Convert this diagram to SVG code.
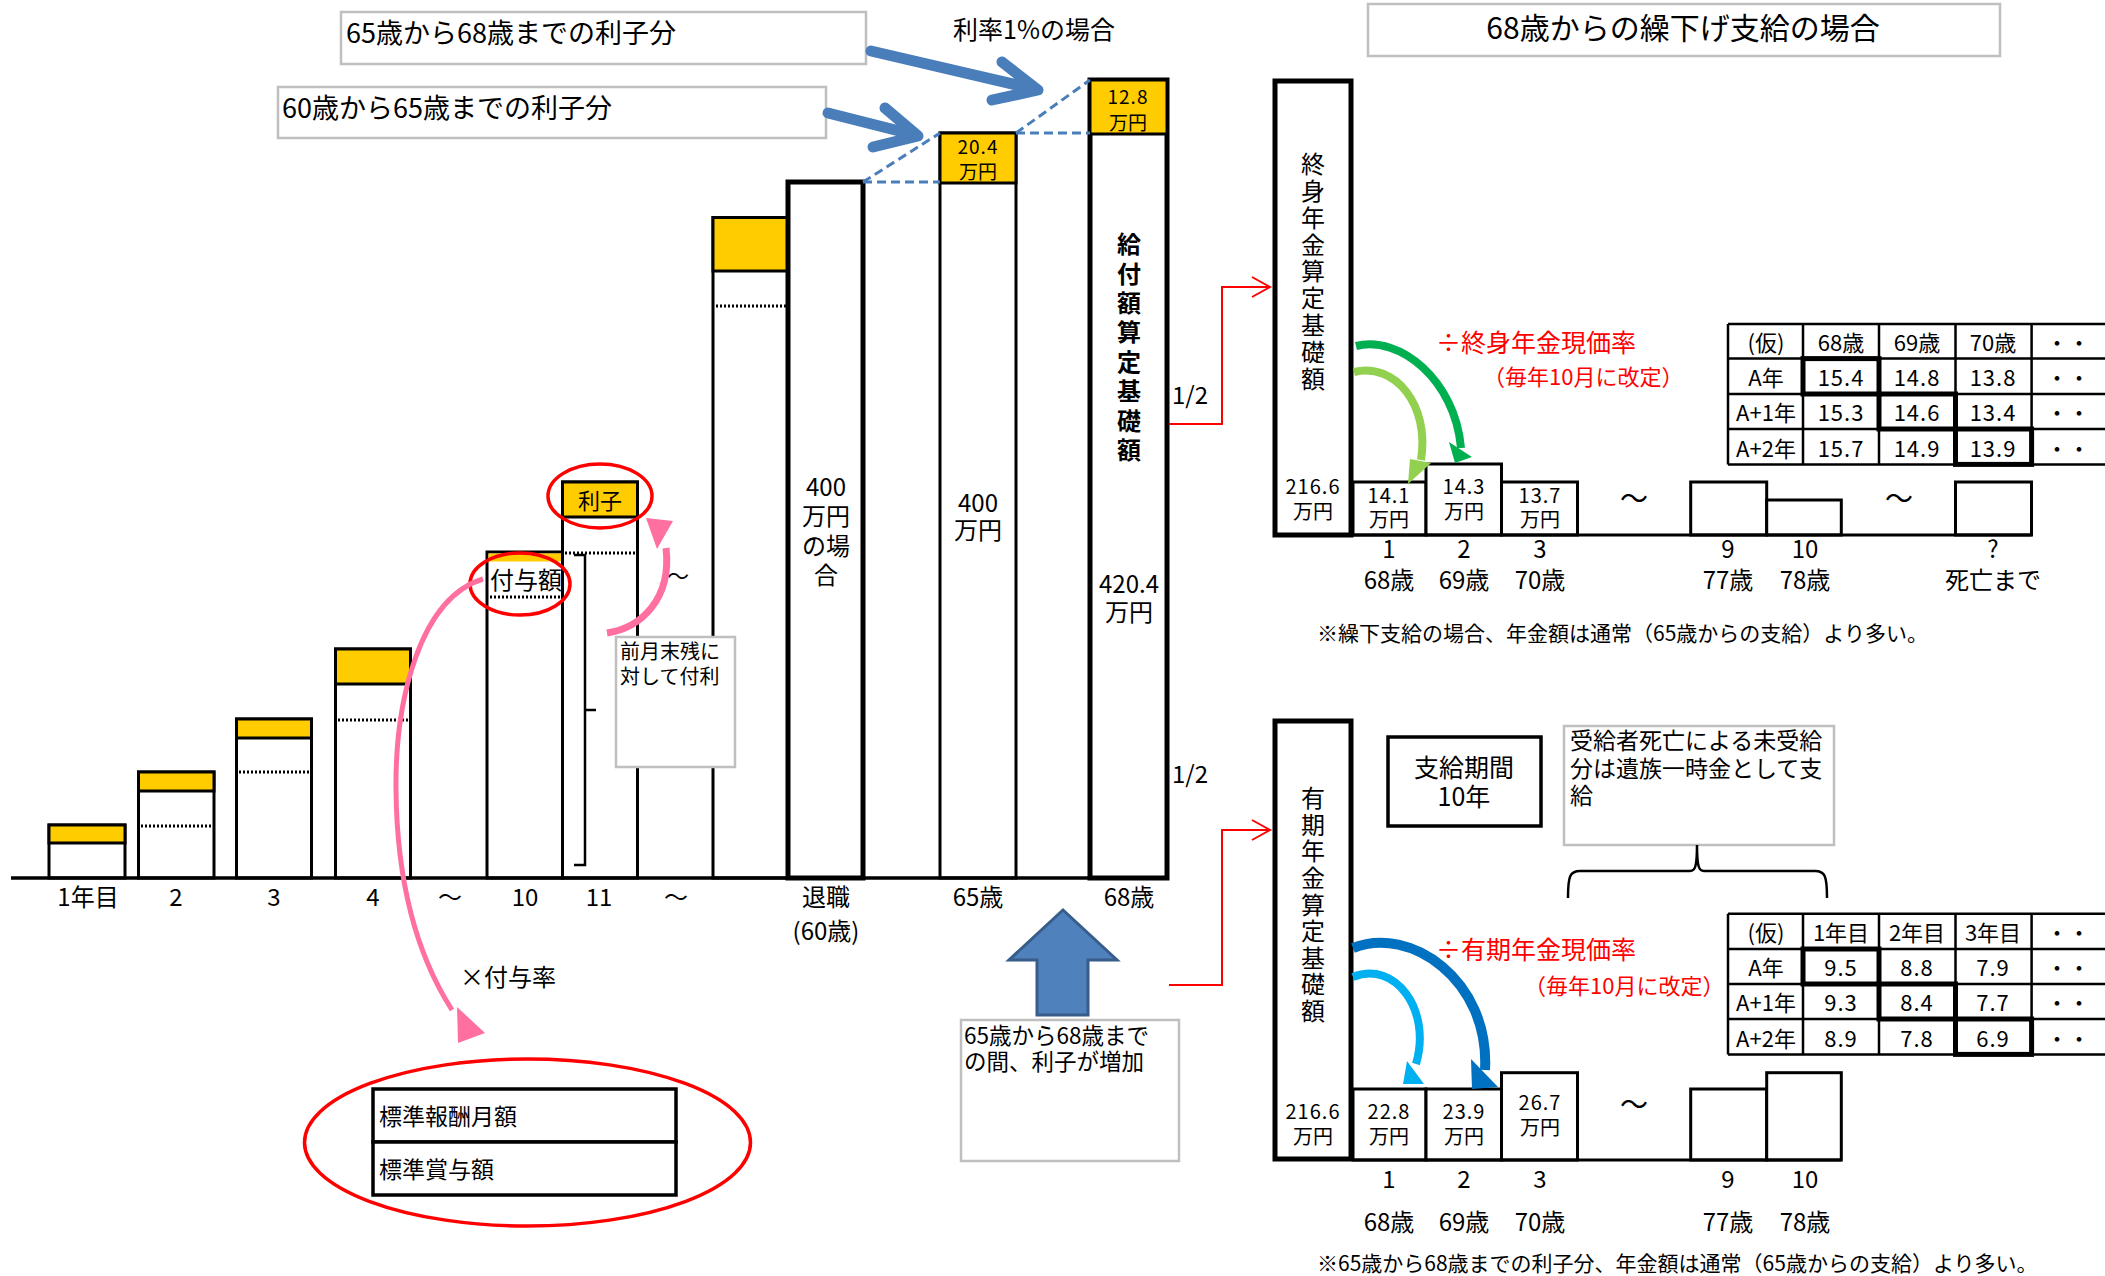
<svg xmlns="http://www.w3.org/2000/svg" width="2105" height="1276" viewBox="0 0 2105 1276">
<style>
text { font-family: "Noto Sans CJK JP", "Noto Sans", sans-serif; fill: #000; }
.c { text-anchor: middle; dominant-baseline: central; }
.l { dominant-baseline: central; }
.v { writing-mode: vertical-rl; font-size: 24px; }
.bar { fill: #fff; stroke: #000; stroke-width: 3; }
.thick { fill: #fff; stroke: #000; stroke-width: 5; }
.yel { fill: #ffcc00; stroke: #000; stroke-width: 3; }
.dot { stroke: #000; stroke-width: 3; stroke-dasharray: 2 2; fill: none; }
.gbox { fill: #fff; stroke: #bfbfbf; stroke-width: 2.5; }
.bbox { fill: #fff; stroke: #000; stroke-width: 3.5; }
.redc { fill: none; stroke: #ff0000; stroke-width: 3.5; }
.redl { fill: none; stroke: #ff0000; stroke-width: 2; }
.dash { fill: none; stroke: #4a7ebb; stroke-width: 3; stroke-dasharray: 9 5; }
.barrow { fill: none; stroke: #4a7ebb; stroke-width: 11; stroke-linecap: round; stroke-linejoin: round; }
.rt { fill: #ff0000; }
.grid { stroke: #000; stroke-width: 2.5; fill: none; }
.hl { stroke: #000; stroke-width: 5; fill: none; }
.s20 { font-size: 20px; }
.s22 { font-size: 22px; }
.s24 { font-size: 24px; }
.num { letter-spacing: 1px; }
</style>

<!-- Left: yearly bars -->
<g id="bar-1"><rect class="bar" x="49" y="825" width="76" height="53"/><rect class="yel" x="49" y="825" width="76" height="18"/></g>
<g id="bar-2"><rect class="bar" x="138.5" y="772" width="75.5" height="106"/><rect class="yel" x="138.5" y="772" width="75.5" height="19"/><line class="dot" x1="141" y1="826" x2="212" y2="826"/></g>
<g id="bar-3"><rect class="bar" x="236.5" y="719" width="75" height="159"/><rect class="yel" x="236.5" y="719" width="75" height="19"/><line class="dot" x1="239" y1="772" x2="310" y2="772"/></g>
<g id="bar-4"><rect class="bar" x="335.5" y="649" width="75" height="229"/><rect class="yel" x="335.5" y="649" width="75" height="35"/><line class="dot" x1="338" y1="720" x2="409" y2="720"/></g>
<g id="bar-10"><rect class="bar" x="487" y="552" width="75.5" height="326"/><rect fill="#ffcc00" x="488.5" y="553.5" width="72.5" height="8"/><line class="dot" x1="490" y1="597" x2="561" y2="597"/><text class="c s24" x="526" y="578">付与額</text></g>
<g id="bar-11"><rect class="bar" x="562.5" y="482" width="75" height="396"/><rect class="yel" x="562.5" y="482" width="75" height="35"/><line class="dot" x1="565" y1="553" x2="636" y2="553"/><text class="c s22" x="600" y="499">利子</text></g>
<g id="bracket"><path d="M574,555 H585 V865 H574 M585,710 H596" fill="none" stroke="#000" stroke-width="2.5"/></g>
<g id="bar-59"><rect class="bar" x="713" y="217.5" width="75" height="660.5"/><rect class="yel" x="713" y="217.5" width="75" height="53.5"/><line class="dot" x1="716" y1="306" x2="786" y2="306"/></g>
<g id="bar-retire"><rect class="thick" x="788" y="182" width="75" height="696"/>
<text class="c s24"><tspan x="826" y="485">400</tspan><tspan x="826" y="514">万円</tspan><tspan x="826" y="544">の場</tspan><tspan x="826" y="573">合</tspan></text></g>
<g id="bar-65"><rect class="bar" x="940" y="133" width="76" height="745" stroke-width="3.5"/><rect class="yel" x="940" y="133" width="76" height="50" stroke-width="3.5"/>
<text class="c" font-size="19"><tspan x="978" y="145" class="num">20.4</tspan><tspan x="978" y="170">万円</tspan></text>
<text class="c s24"><tspan x="978" y="501">400</tspan><tspan x="978" y="528">万円</tspan></text></g>
<g id="bar-68"><rect class="thick" x="1090" y="80" width="77" height="798"/><rect class="yel" x="1090" y="80" width="77" height="54" stroke-width="5"/>
<text class="c" font-size="19"><tspan x="1128" y="95" class="num">12.8</tspan><tspan x="1128" y="121">万円</tspan></text>
<text class="v" x="1129" y="232" font-weight="bold" letter-spacing="5.4">給付額算定基礎額</text>
<text class="c s24"><tspan x="1129" y="582">420.4</tspan><tspan x="1129" y="610">万円</tspan></text></g>
<line x1="11" y1="878" x2="1167" y2="878" stroke="#000" stroke-width="3.5"/>

<!-- axis labels -->
<g id="axis-left" class="s24">
<text class="c" x="88" y="895">1年目</text><text class="c" x="176" y="895">2</text><text class="c" x="274" y="895">3</text><text class="c" x="373" y="895">4</text><text class="c" x="450" y="895">～</text><text class="c" x="525" y="895">10</text><text class="c" x="599" y="895">11</text><text class="c" x="676" y="895">～</text>
<text class="c"><tspan x="826" y="895">退職</tspan><tspan x="826" y="929">(60歳)</tspan></text><text class="c" x="978" y="895">65歳</text><text class="c" x="1129" y="895">68歳</text>
</g>
<text class="c s22" x="678" y="574">～</text>

<!-- top notes -->
<g id="note-65-68"><rect class="gbox" x="341" y="12" width="525" height="52"/><text class="l" font-size="27" x="346" y="31">65歳から68歳までの利子分</text></g>
<g id="note-60-65"><rect class="gbox" x="278" y="87" width="548" height="51"/><text class="l" font-size="27" x="282" y="106">60歳から65歳までの利子分</text></g>
<text class="c" font-size="25" x="1034" y="28">利率1%の場合</text>

<g id="note-zenngetsu"><rect class="gbox" x="616" y="637" width="119" height="130"/><text class="l s20"><tspan x="620" y="650">前月末残に</tspan><tspan x="620" y="675">対して付利</tspan></text></g>

<g id="std-box"><rect class="bbox" x="373" y="1089" width="303" height="53"/><rect class="bbox" x="373" y="1142" width="303" height="53"/>
<text class="l" font-size="23" x="379" y="1115">標準報酬月額</text><text class="l" font-size="23" x="379" y="1168">標準賞与額</text></g>
<text class="c s24" x="508" y="975">×付与率</text>

<g id="up-arrow"><polygon points="1063,910 1117,960 1088,960 1088,1015 1037,1015 1037,960 1009,960" fill="#4f81bd" stroke="#385d8a" stroke-width="3"/></g>
<g id="note-increase"><rect class="gbox" x="961" y="1020" width="218" height="141"/><text class="l" font-size="22.5"><tspan x="964" y="1034">65歳から68歳まで</tspan><tspan x="964" y="1060">の間、利子が増加</tspan></text></g>

<text class="c s24" x="1190" y="393">1/2</text>
<text class="c s24" x="1190" y="772">1/2</text>

<!-- Right upper -->
<g id="title"><rect class="gbox" x="1368" y="4" width="632" height="52"/><text class="c" font-size="30" x="1683" y="26">68歳からの繰下げ支給の場合</text></g>

<g id="life-base"><rect class="thick" x="1275" y="81" width="76" height="454"/>
<text class="v" x="1313" y="152" letter-spacing="2.8">終身年金算定基礎額</text>
<text class="c s20"><tspan x="1313" y="485" class="num">216.6</tspan><tspan x="1313" y="510">万円</tspan></text></g>
<g id="life-bars">
<rect class="bar" x="1353" y="482" width="73" height="53"/><text class="c s20"><tspan x="1389" y="494" class="num">14.1</tspan><tspan x="1389" y="518">万円</tspan></text>
<rect class="bar" x="1426" y="464" width="75.5" height="71"/><text class="c s20"><tspan x="1464" y="485" class="num">14.3</tspan><tspan x="1464" y="510">万円</tspan></text>
<rect class="bar" x="1501.5" y="482" width="76" height="53"/><text class="c s20"><tspan x="1540" y="494" class="num">13.7</tspan><tspan x="1540" y="518">万円</tspan></text>
<rect class="bar" x="1690.7" y="482" width="76" height="53"/>
<rect class="bar" x="1766.7" y="500" width="74.6" height="35"/>
<rect class="bar" x="1955.5" y="482" width="76" height="53"/>
<line x1="1353" y1="535" x2="2031.6" y2="535" stroke="#000" stroke-width="3"/>
<text class="c" font-size="28" x="1634" y="497">～</text><text class="c" font-size="28" x="1899" y="497">～</text>
</g>
<g id="life-axis" class="s24">
<text class="c"><tspan x="1389" y="547">1</tspan><tspan x="1389" y="578">68歳</tspan></text>
<text class="c"><tspan x="1464" y="547">2</tspan><tspan x="1464" y="578">69歳</tspan></text>
<text class="c"><tspan x="1540" y="547">3</tspan><tspan x="1540" y="578">70歳</tspan></text>
<text class="c"><tspan x="1728" y="547">9</tspan><tspan x="1728" y="578">77歳</tspan></text>
<text class="c"><tspan x="1805" y="547">10</tspan><tspan x="1805" y="578">78歳</tspan></text>
<text class="c"><tspan x="1993" y="547">?</tspan><tspan x="1993" y="578">死亡まで</tspan></text>
</g>
<text class="l" font-size="21" x="1317" y="632">※繰下支給の場合、年金額は通常（65歳からの支給）より多い。</text>

<text class="l rt" font-size="25" x="1436" y="341">÷終身年金現価率</text>
<text class="l rt" font-size="22" x="1483" y="375">（毎年10月に改定）</text>

<g id="life-table">
<path class="grid" d="M1728,324 H2105 M1728,358.6 H2105 M1728,394 H2105 M1728,429 H2105 M1728,464.4 H2105 M1728,324 V464.4 M1803,324 V464.4 M1879,324 V464.4 M1955.5,324 V464.4 M2031.6,324 V464.4"/>
<rect class="hl" x="1803" y="358.6" width="76" height="35.4"/>
<rect class="hl" x="1879" y="394" width="76.5" height="35"/>
<rect class="hl" x="1955.5" y="429" width="76.1" height="35.4"/>
<g class="s22">
<text class="c" x="1766" y="341">(仮)</text><text class="c" x="1841" y="341">68歳</text><text class="c" x="1917" y="341">69歳</text><text class="c" x="1993" y="341">70歳</text><text class="c" x="2068" y="341">・・</text>
<text class="c" x="1766" y="376">A年</text><text class="c num" x="1841" y="376">15.4</text><text class="c num" x="1917" y="376">14.8</text><text class="c num" x="1993" y="376">13.8</text><text class="c" x="2068" y="376">・・</text>
<text class="c" x="1766" y="411">A+1年</text><text class="c num" x="1841" y="411">15.3</text><text class="c num" x="1917" y="411">14.6</text><text class="c num" x="1993" y="411">13.4</text><text class="c" x="2068" y="411">・・</text>
<text class="c" x="1766" y="447">A+2年</text><text class="c num" x="1841" y="447">15.7</text><text class="c num" x="1917" y="447">14.9</text><text class="c num" x="1993" y="447">13.9</text><text class="c" x="2068" y="447">・・</text>
</g></g>

<!-- Right lower -->
<g id="term-base"><rect class="thick" x="1275" y="721" width="76" height="438"/>
<text class="v" x="1313" y="786" letter-spacing="2.6">有期年金算定基礎額</text>
<text class="c s20"><tspan x="1313" y="1110" class="num">216.6</tspan><tspan x="1313" y="1135">万円</tspan></text></g>
<g id="term-bars">
<rect class="bar" x="1353" y="1089" width="73" height="71"/><text class="c s20"><tspan x="1389" y="1110" class="num">22.8</tspan><tspan x="1389" y="1135">万円</tspan></text>
<rect class="bar" x="1426" y="1089" width="75.5" height="71"/><text class="c s20"><tspan x="1464" y="1110" class="num">23.9</tspan><tspan x="1464" y="1135">万円</tspan></text>
<rect class="bar" x="1501.5" y="1072.7" width="76" height="87.3"/><text class="c s20"><tspan x="1540" y="1101" class="num">26.7</tspan><tspan x="1540" y="1126">万円</tspan></text>
<rect class="bar" x="1690.7" y="1089" width="76" height="71"/>
<rect class="bar" x="1766.7" y="1072.7" width="74.6" height="87.3"/>
<line x1="1353" y1="1160" x2="1841.3" y2="1160" stroke="#000" stroke-width="3"/>
<text class="c" font-size="28" x="1634" y="1103">～</text>
</g>
<g id="term-axis" class="s24">
<text class="c" x="1389" y="1177">1</text><text class="c" x="1464" y="1177">2</text><text class="c" x="1540" y="1177">3</text><text class="c" x="1728" y="1177">9</text><text class="c" x="1805" y="1177">10</text>
<text class="c" x="1389" y="1220">68歳</text><text class="c" x="1464" y="1220">69歳</text><text class="c" x="1540" y="1220">70歳</text><text class="c" x="1728" y="1220">77歳</text><text class="c" x="1805" y="1220">78歳</text>
</g>
<text class="l" font-size="21" x="1317" y="1262">※65歳から68歳までの利子分、年金額は通常（65歳からの支給）より多い。</text>

<g id="period-box"><rect class="bbox" x="1388" y="737" width="153" height="89"/><text class="c" font-size="25"><tspan x="1464" y="766">支給期間</tspan><tspan x="1464" y="795">10年</tspan></text></g>
<g id="death-note"><rect class="gbox" x="1564" y="726" width="270" height="119"/>
<text class="l" font-size="23"><tspan x="1570" y="739">受給者死亡による未受給</tspan><tspan x="1570" y="767">分は遺族一時金として支</tspan><tspan x="1570" y="794">給</tspan></text></g>
<path d="M1568,898 C1568,876 1570,871 1580,871 H1690 C1695,871 1697,867 1697,845 C1697,867 1699,871 1704,871 H1815 C1825,871 1827,876 1827,898" fill="none" stroke="#000" stroke-width="2.5"/>

<text class="l rt" font-size="25" x="1436" y="948">÷有期年金現価率</text>
<text class="l rt" font-size="22" x="1524" y="984">（毎年10月に改定）</text>

<g id="term-table">
<path class="grid" d="M1728,913.7 H2105 M1728,949 H2105 M1728,984 H2105 M1728,1019 H2105 M1728,1054.4 H2105 M1728,913.7 V1054.4 M1803,913.7 V1054.4 M1879,913.7 V1054.4 M1955.5,913.7 V1054.4 M2031.6,913.7 V1054.4"/>
<rect class="hl" x="1803" y="949" width="76" height="35"/>
<rect class="hl" x="1879" y="984" width="76.5" height="35"/>
<rect class="hl" x="1955.5" y="1019" width="76.1" height="35.4"/>
<g class="s22">
<text class="c" x="1766" y="931">(仮)</text><text class="c" x="1841" y="931">1年目</text><text class="c" x="1917" y="931">2年目</text><text class="c" x="1993" y="931">3年目</text><text class="c" x="2068" y="931">・・</text>
<text class="c" x="1766" y="966">A年</text><text class="c num" x="1841" y="966">9.5</text><text class="c num" x="1917" y="966">8.8</text><text class="c num" x="1993" y="966">7.9</text><text class="c" x="2068" y="966">・・</text>
<text class="c" x="1766" y="1001">A+1年</text><text class="c num" x="1841" y="1001">9.3</text><text class="c num" x="1917" y="1001">8.4</text><text class="c num" x="1993" y="1001">7.7</text><text class="c" x="2068" y="1001">・・</text>
<text class="c" x="1766" y="1037">A+2年</text><text class="c num" x="1841" y="1037">8.9</text><text class="c num" x="1917" y="1037">7.8</text><text class="c num" x="1993" y="1037">6.9</text><text class="c" x="2068" y="1037">・・</text>
</g></g>

<!-- connectors -->
<g id="connectors">
<line class="dash" x1="863" y1="182" x2="940" y2="182"/>
<line class="dash" x1="863" y1="182" x2="940" y2="133"/>
<line class="dash" x1="1016" y1="133" x2="1090" y2="133"/>
<line class="dash" x1="1016" y1="133" x2="1090" y2="80"/>
<path class="barrow" d="M871,51 L1034,89 M1002,62 L1038,90 L992,100"/>
<path class="barrow" d="M828,113 L915,135 M885,108 L918,136 L873,147"/>
<path class="redl" d="M1169,424 H1222 V287 H1269 M1252,277 L1270,287 L1252,297"/>
<path class="redl" d="M1169,985 H1222 V830 H1269 M1252,820 L1270,830 L1252,840"/>
<ellipse class="redc" cx="600" cy="496" rx="52" ry="32"/>
<ellipse class="redc" cx="520" cy="584" rx="50" ry="31"/>
<ellipse class="redc" cx="527.5" cy="1142.5" rx="223" ry="83.5"/>
<path d="M483,579 C420,598 395,700 396,790 C397,890 420,960 452,1010" fill="none" stroke="#ff6f9f" stroke-width="5"/>
<polygon points="457,1007 485,1033 458,1043" fill="#ff6f9f"/>
<path d="M607,633 C640,628 672,600 666,548" fill="none" stroke="#ff6f9f" stroke-width="7"/>
<polygon points="646,518 673,521 657,549" fill="#ff6f9f"/>
<path d="M1356,346 C1400,335 1455,380 1461,448" fill="none" stroke="#00b050" stroke-width="8"/>
<polygon points="1449,442 1472,457 1455,463" fill="#00b050"/>
<path d="M1354,372 C1395,362 1430,405 1421,460" fill="none" stroke="#92d050" stroke-width="8"/>
<polygon points="1410,459 1431,463 1408,484" fill="#92d050"/>
<path d="M1353,948 C1410,925 1490,980 1485,1070" fill="none" stroke="#0070c0" stroke-width="10"/>
<polygon points="1471,1059 1498,1087 1472,1089" fill="#0070c0"/>
<path d="M1353,977 C1395,960 1432,1010 1416,1064" fill="none" stroke="#00b0f0" stroke-width="8"/>
<polygon points="1407,1061 1424,1084 1403,1084" fill="#00b0f0"/>
</g>
</svg>
